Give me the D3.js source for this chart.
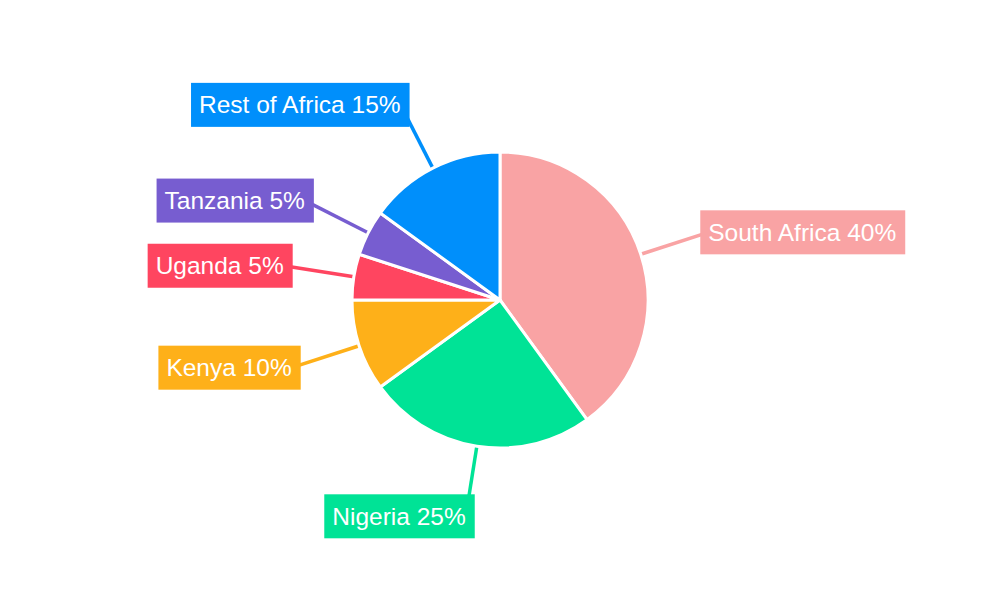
<!DOCTYPE html>
<html>
<head>
<meta charset="utf-8">
<script src="https://cdn.jsdelivr.net/npm/d3@7"></script>
<style>
	html, body { margin: 0; padding: 0; background: #fff; }
	svg { display: block; font-family: "Liberation Sans", Arial, sans-serif; }
</style>
</head>
<body>
<svg width="1000" height="600"></svg>
<script>
const regions = ["South Africa", "Nigeria", "Kenya", "Uganda", "Tanzania", "Rest of Africa"];
const shares = [40, 25, 10, 5, 5, 15];
const colours = ["#F9A3A4", "#00E396", "#FEB019", "#FF4560", "#775DD0", "#008FFB"];

const svg = d3.select("svg");
const cx = 500, cy = 300;
const radius = 148;
const labelRadius = 219;

const data = regions.map((r, i) => ({ region: r, share: shares[i], colour: colours[i] }));

const pie = d3.pie().sort(null).value(d => d.share);
const arcs = pie(data);

const arc = d3.arc().innerRadius(0).outerRadius(radius);
const lineArc = d3.arc().innerRadius(radius).outerRadius(radius);
const labelArc = d3.arc().innerRadius(labelRadius).outerRadius(labelRadius);

const g = svg.append("g").attr("transform", `translate(${cx},${cy})`);

// leader lines first so slices and boxes sit on top
g.append("g")
	.selectAll("line")
	.data(arcs)
	.join("line")
	.attr("x1", d => lineArc.centroid(d)[0])
	.attr("y1", d => lineArc.centroid(d)[1])
	.attr("x2", d => labelArc.centroid(d)[0])
	.attr("y2", d => labelArc.centroid(d)[1])
	.attr("stroke", d => d.data.colour)
	.attr("stroke-width", 3.5);

g.append("g")
	.selectAll("path")
	.data(arcs)
	.join("path")
	.attr("d", arc)
	.attr("fill", d => d.data.colour)
	.attr("stroke", "#fff")
	.attr("stroke-width", 3)
	.attr("stroke-linejoin", "round");

const labels = g.append("g")
	.selectAll("g")
	.data(arcs)
	.join("g")
	.attr("transform", d => `translate(${labelArc.centroid(d)})`);

const texts = labels.append("text")
	.attr("text-anchor", d => (d.startAngle + d.endAngle) / 2 < Math.PI ? "start" : "end")
	.attr("dy", "0.35em")
	.attr("fill", "#fff")
	.attr("font-size", 24.5)
	.text(d => `${d.data.region} ${d.data.share}%`);

texts.each(function () {
	const b = this.getBBox();
	d3.select(this.parentNode).insert("rect", "text")
		.attr("x", b.x - 8)
		.attr("y", -22)
		.attr("width", b.width + 17)
		.attr("height", 44)
		.attr("fill", d => d.data.colour);
});
</script>
</body>
</html>
